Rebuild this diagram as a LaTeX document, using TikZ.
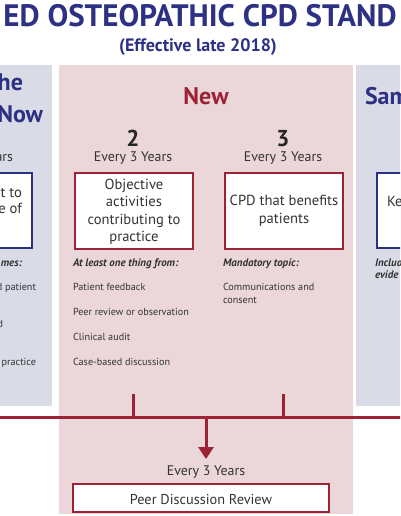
\documentclass[tikz,border=0pt]{standalone}
\usepackage{fontspec}
\setmainfont{PT Sans}
\usetikzlibrary{arrows.meta}
\definecolor{navy}{HTML}{2D3184}
\definecolor{dred}{HTML}{9B2335}
\definecolor{bluebg}{HTML}{D9DBE7}
\definecolor{pinkbg}{HTML}{EBD6D9}
\definecolor{txt}{HTML}{333333}
\tikzset{
  every node/.style={inner sep=0pt, outer sep=0pt},
  title/.style={text=navy, font=\bfseries\fontsize{31}{33}\selectfont},
  subtitle/.style={text=navy, font=\bfseries\fontsize{18}{20}\selectfont},
  headb/.style={text=navy, font=\bfseries\fontsize{24}{26}\selectfont},
  headr/.style={text=dred, font=\bfseries\fontsize{24}{26}\selectfont},
  numb/.style={text=black!85, font=\bfseries\fontsize{23}{25}\selectfont},
  freq/.style={text=txt, font=\fontsize{13.9}{15}\selectfont},
  boxtxt/.style={text=txt, font=\fontsize{14.6}{17}\selectfont},
  listitem/.style={text=txt, font=\fontsize{10.2}{12}\selectfont},
  listhead/.style={text=txt, font=\bfseries\itshape\fontsize{10.9}{12}\selectfont},
  redbox/.style={draw=dred, fill=white, line width=1.5pt},
  bluebox/.style={draw=navy, fill=white, line width=1.5pt},
  tline/.style={draw=dred, line width=3pt},
}
\begin{document}
\begin{tikzpicture}[x=1pt,y=-1pt]
\useasboundingbox (0,0) rectangle (400,516);
\clip (0,0) rectangle (400,516);
% panels
\fill[bluebg] (-10,65) rectangle (52,406);
\fill[pinkbg] (59,65) rectangle (353,514);
\fill[bluebg] (356,65) rectangle (410,406);
% title
\node[title, anchor=base] (t1) at (200,27) {ED OSTEOPATHIC CPD STAND};
\node[subtitle, anchor=base] (t2) at (198,52) {(Effective late 2018)};
% left panel
\node[headb, anchor=base east] (l1) at (23,91) {he};
\node[headb, anchor=base east] (l2) at (43,122) {Now};
\node[freq, anchor=base east] (l3) at (13,161) {ars};
\draw[bluebox] (-20,173) rectangle (32,248);
\node[boxtxt, anchor=base east] (l4) at (22,197) {t to};
\node[boxtxt, anchor=base east] (l5) at (22,213) {e of};
\node[listhead, anchor=base east] (l6) at (22,266.5) {mes:};
\node[listitem, anchor=base east] (l7) at (36,290.5) {d patient};
\node[listitem, anchor=base east] (l8) at (3,327.5) {d};
\node[listitem, anchor=base east] (l9) at (36,365.5) {practice};
% middle panel
\node[headr, anchor=base] (new) at (206,105) {New};
\node[numb, anchor=base] (n2) at (133,146) {2};
\node[freq, anchor=base] (f2) at (133,161.5) {Every 3 Years};
\node[numb, anchor=base] (n3) at (283,146) {3};
\node[freq, anchor=base] (f3) at (283,161.5) {Every 3 Years};
\draw[redbox] (75,173) rectangle (193,249);
\node[boxtxt, anchor=base] (b1a) at (134,189) {Objective};
\node[boxtxt, anchor=base] (b1b) at (134,206.5) {activities};
\node[boxtxt, anchor=base] (b1c) at (134,224) {contributing to};
\node[boxtxt, anchor=base] (b1d) at (134,241.5) {practice};
\draw[redbox] (225,173) rectangle (343,249);
\node[boxtxt, anchor=base] (b2a) at (284,205.7) {CPD that benefits};
\node[boxtxt, anchor=base] (b2b) at (284,223.3) {patients};
\node[listhead, anchor=base west] (h1) at (73,266.5) {At least one thing from:};
\node[listitem, anchor=base west] (i1) at (73,290.5) {Patient feedback};
\node[listitem, anchor=base west] (i2) at (73,315.5) {Peer review or observation};
\node[listitem, anchor=base west] (i3) at (73,340.5) {Clinical audit};
\node[listitem, anchor=base west] (i4) at (73,365.5) {Case-based discussion};
\node[listhead, anchor=base west] (h2) at (223,266.5) {Mandatory topic:};
\node[listitem, anchor=base west] (j1) at (223,290.5) {Communications and};
\node[listitem, anchor=base west] (j2) at (223,303.3) {consent};
% right panel
\node[headb, anchor=base west] (r1) at (365,105) {Sam};
\draw[bluebox] (377,173) rectangle (420,248);
\node[boxtxt, anchor=base west] (r2) at (387,206) {Ke};
\node[listhead, anchor=base west] (r3) at (375,266.5) {Includ};
\node[listhead, anchor=base west] (r4) at (375,278.3) {evide};
% timeline
\coordinate (lineL) at (-5,417);
\coordinate (lineR) at (405,417);
\coordinate (tick1top) at (133,394);
\coordinate (tick1) at (133,417);
\coordinate (tick2top) at (283,394);
\coordinate (tick2) at (283,417);
\coordinate (arrS) at (206,417);
\coordinate (arrE) at (206,459);
\draw[tline] (lineL) -- (lineR);
\draw[tline] (tick1top) -- (tick1);
\draw[tline] (tick2top) -- (tick2);
\draw[tline, -{Triangle[width=15pt,length=12pt]}] (arrS) -- (arrE);
\node[freq, anchor=base] (f4) at (206,475) {Every 3 Years};
\draw[redbox] (73,484) rectangle (329,512);
\node[text=txt, font=\fontsize{14.3}{15}\selectfont, anchor=base] (pdr) at (201,504) {Peer Discussion Review};
\end{tikzpicture}
\end{document}
